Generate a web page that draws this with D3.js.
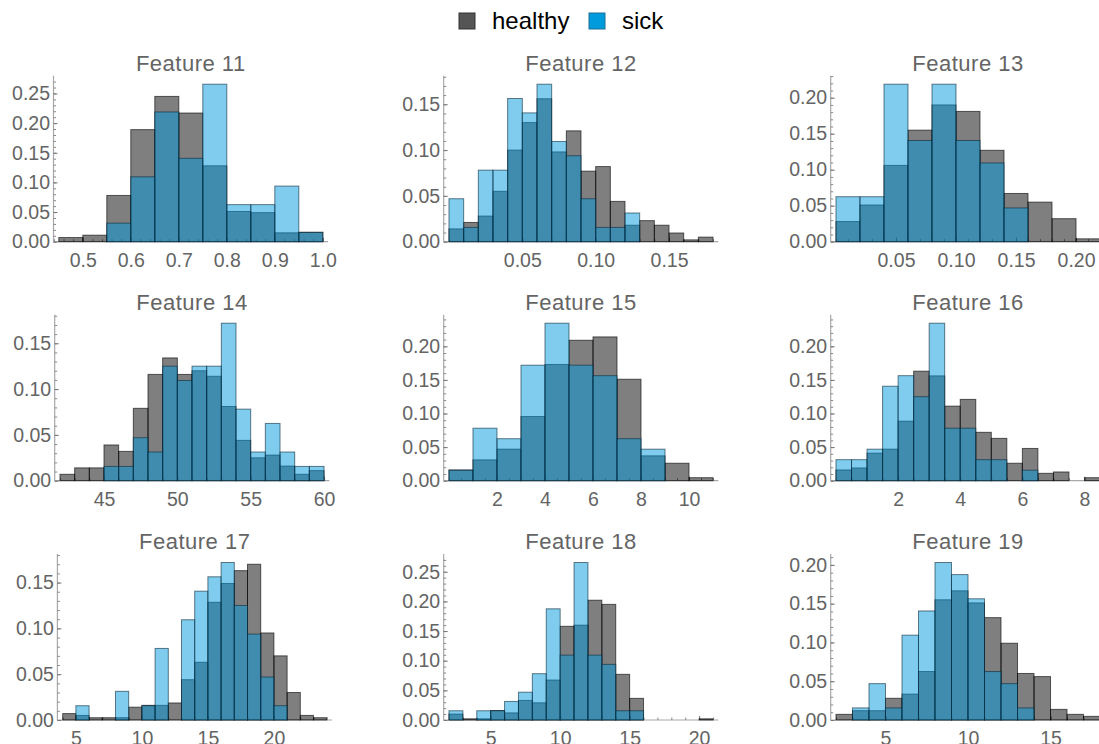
<!DOCTYPE html>
<html lang="en">
<head>
<meta charset="UTF-8">
<script src="https://d3js.org/d3.v7.min.js"></script>
<title>Feature histograms</title>
<style>
  body { margin: 0; background: #fff; }
  svg { display: block; font-family: "Liberation Sans", Arial, sans-serif; }
  .tick text { fill: #646464; }
</style>
</head>
<body>
<script>
// ---- data (probabilities per bin) ----
const featureNames = ["Feature 11", "Feature 12", "Feature 13",
                      "Feature 14", "Feature 15", "Feature 16",
                      "Feature 17", "Feature 18", "Feature 19"];
const binStart = [0.45, 0, 0, 42, 0, 0, 4, 2, 2];
const binWidth = [0.05, 0.01, 0.02, 1, 1, 0.5, 1, 1, 1];

const healthy11 = [0.007, 0.011, 0.078, 0.189, 0.245, 0.217, 0.128, 0.051, 0.049, 0.015, 0.016];
const sick11    = [0, 0, 0.0313, 0.1094, 0.2188, 0.1406, 0.2656, 0.0625, 0.0625, 0.0938, 0.0156];

const healthy12 = [0.014, 0.021, 0.028, 0.055, 0.100, 0.130, 0.156, 0.098, 0.121, 0.077, 0.082, 0.044, 0.018, 0.023, 0.018, 0.0095, 0.002, 0.005];
const sick12    = [0.0469, 0.0156, 0.0781, 0.0781, 0.1563, 0.1406, 0.1719, 0.1094, 0.0938, 0.0469, 0.0156, 0.0156, 0.0313, 0, 0, 0, 0, 0];

const healthy13 = [0.028, 0.051, 0.106, 0.155, 0.190, 0.181, 0.127, 0.067, 0.055, 0.032, 0.004];
const sick13    = [0.0625, 0.0625, 0.2188, 0.1406, 0.2188, 0.1406, 0.1094, 0.0469, 0, 0, 0];

const healthy14 = [0.007, 0.014, 0.014, 0.039, 0.032, 0.079, 0.116, 0.134, 0.116, 0.120, 0.114, 0.081, 0.044, 0.025, 0.028, 0.016, 0.007, 0.011];
const sick14    = [0, 0, 0, 0.0156, 0.0156, 0.0469, 0.0313, 0.125, 0.1094, 0.125, 0.125, 0.1719, 0.0781, 0.0313, 0.0625, 0.0313, 0.0156, 0.0156];

const healthy15 = [0.016, 0.031, 0.047, 0.0955, 0.173, 0.209, 0.214, 0.151, 0.037, 0.026, 0.0045];
const sick15    = [0.0156, 0.0781, 0.0625, 0.1719, 0.2344, 0.1719, 0.1563, 0.0625, 0.0469, 0, 0];

const healthy16 = [0.016, 0.019, 0.041, 0.047, 0.0886, 0.163, 0.156, 0.111, 0.121, 0.072, 0.063, 0.026, 0.048, 0.011, 0.013, 0, 0.0045];
const sick16    = [0.0313, 0.0313, 0.0469, 0.1406, 0.1563, 0.125, 0.2344, 0.0781, 0.0781, 0.0313, 0.0313, 0, 0.0156, 0, 0, 0, 0];

const healthy17 = [0.007, 0.005, 0.0025, 0.0025, 0.0025, 0.014, 0.016, 0.016, 0.0186, 0.044, 0.063, 0.1285, 0.149, 0.163, 0.170, 0.095, 0.070, 0.030, 0.005, 0.0025];
const sick17    = [0, 0.0156, 0, 0, 0.0313, 0, 0.0156, 0.0781, 0, 0.1094, 0.1406, 0.1563, 0.1719, 0.125, 0.0938, 0.0469, 0.0156, 0, 0, 0];

const healthy18 = [0.010, 0.002, 0.002, 0.016, 0.012, 0.033, 0.029, 0.0674, 0.158, 0.160, 0.202, 0.195, 0.077, 0.0365, 0, 0, 0, 0, 0.002];
const sick18    = [0.0156, 0, 0.0156, 0.0156, 0.0313, 0.0469, 0.0781, 0.1875, 0.1094, 0.2656, 0.1094, 0.0938, 0.0156, 0.0156, 0, 0, 0, 0, 0];

const healthy19 = [0.0073, 0.012, 0.012, 0.028, 0.0334, 0.0625, 0.155, 0.1666, 0.151, 0.132, 0.099, 0.060, 0.056, 0.0137, 0.0073, 0.0047];
const sick19    = [0, 0.0156, 0.0469, 0.0156, 0.1094, 0.1406, 0.2031, 0.1875, 0.1563, 0.0625, 0.0469, 0.0156, 0, 0, 0, 0];

const healthySeries = [healthy11, healthy12, healthy13, healthy14, healthy15, healthy16, healthy17, healthy18, healthy19];
const sickSeries = [sick11, sick12, sick13, sick14, sick15, sick16, sick17, sick18, sick19];

const xTickValues = [[0.5, 0.6, 0.7, 0.8, 0.9, 1.0], [0.05, 0.10, 0.15], [0.05, 0.10, 0.15, 0.20],
                     [45, 50, 55, 60], [2, 4, 6, 8, 10], [2, 4, 6, 8],
                     [5, 10, 15, 20], [5, 10, 15, 20], [5, 10, 15]];
const xTickFormats = [".1f", ".2f", ".2f", "d", "d", "d", "d", "d", "d"];
const xMinorStep = [0.02, 0.01, 0.01, 1, 0.5, 0.5, 1, 1, 1];
const yTickValues = [[0, 0.05, 0.10, 0.15, 0.20, 0.25], [0, 0.05, 0.10, 0.15], [0, 0.05, 0.10, 0.15, 0.20],
                     [0, 0.05, 0.10, 0.15], [0, 0.05, 0.10, 0.15, 0.20], [0, 0.05, 0.10, 0.15, 0.20],
                     [0, 0.05, 0.10, 0.15], [0, 0.05, 0.10, 0.15, 0.20, 0.25], [0, 0.05, 0.10, 0.15, 0.20]];
const legendLabels = ["healthy", "sick"];

// ---- layout ----
const panelLeft = [53.5, 443.7, 830.7, 54.7, 443.7, 830.7, 57.4, 443.7, 830.7];
const rowBase = [241.7, 480.7, 720];
const plotW = 274.6;   // axis length incl. 2% padding on each side
const barTop = 157.5;  // height of the tallest bar
const axisH = 166;

const svg = d3.select("body").append("svg").attr("width", 1099).attr("height", 744);

featureNames.forEach((name, i) => {
    const row = Math.floor(i / 3);
    const x0 = panelLeft[i], y0 = rowBase[row];
    const hs = healthySeries[i], ss = sickSeries[i];
    const w = binWidth[i];
    const lo = binStart[i], hi = binStart[i] + hs.length * w;
    const pad = (hi - lo) * 0.02;
    const x = d3.scaleLinear().domain([lo - pad, hi + pad]).range([x0, x0 + plotW]);
    const y = d3.scaleLinear().domain([0, d3.max(hs.concat(ss))]).range([y0, y0 - barTop]);

    const g = svg.append("g");

    // axis lines
    g.append("line").attr("x1", x0).attr("x2", x0 + plotW).attr("y1", y0).attr("y2", y0)
        .attr("stroke", "#a8a8a8").attr("stroke-width", 1.2);
    g.append("line").attr("x1", x0).attr("x2", x0).attr("y1", y0).attr("y2", y0 - axisH)
        .attr("stroke", "#a8a8a8").attr("stroke-width", 1.2);

    // minor ticks
    const yMinor = d3.range(0, y.invert(y0 - axisH), 0.01);
    g.append("g").attr("transform", "translate(" + x0 + ",0)")
        .call(d3.axisLeft(y).tickValues(yMinor).tickSize(-2.5).tickFormat(""))
        .call(a => a.select(".domain").remove())
        .selectAll("line").attr("stroke", "#888");
    const xMinor = d3.range(Math.ceil((lo - pad) / xMinorStep[i]), Math.floor((hi + pad) / xMinorStep[i]) + 1)
        .map(k => k * xMinorStep[i]);
    g.append("g").attr("transform", "translate(0," + y0 + ")")
        .call(d3.axisBottom(x).tickValues(xMinor).tickSize(-2.5).tickFormat(""))
        .call(a => a.select(".domain").remove())
        .selectAll("line").attr("stroke", "#888");

    // major ticks and labels
    const yAxis = g.append("g").attr("transform", "translate(" + x0 + ",0)")
        .call(d3.axisLeft(y).tickValues(yTickValues[i]).tickSize(-4).tickPadding(3.5).tickFormat(d3.format(".2f")));
    const xAxis = g.append("g").attr("transform", "translate(0," + y0 + ")")
        .call(d3.axisBottom(x).tickValues(xTickValues[i]).tickSize(-4).tickPadding(11.6).tickFormat(d3.format(xTickFormats[i])));
    [yAxis, xAxis].forEach(a => {
        a.select(".domain").remove();
        a.attr("font-size", null).attr("font-family", null);
        a.selectAll("line").attr("stroke", "#777");
        a.selectAll("text").style("font-size", "19.5px").attr("fill", "#646464");
    });

    // bars: healthy first, sick drawn over it
    const bins = (vals) => vals.map((v, k) => ({lo: lo + k * w, hi: lo + (k + 1) * w, v: v})).filter(d => d.v > 0);
    g.append("g").selectAll("rect").data(bins(hs)).join("rect")
        .attr("x", d => x(d.lo)).attr("width", d => x(d.hi) - x(d.lo))
        .attr("y", d => y(d.v)).attr("height", d => y0 - y(d.v))
        .attr("fill", "rgb(0,0,0)").attr("fill-opacity", 0.5)
        .attr("stroke", "#000").attr("stroke-opacity", 0.6).attr("stroke-width", 1);
    g.append("g").selectAll("rect").data(bins(ss)).join("rect")
        .attr("x", d => x(d.lo)).attr("width", d => x(d.hi) - x(d.lo))
        .attr("y", d => y(d.v)).attr("height", d => y0 - y(d.v))
        .attr("fill", "rgb(0,153,221)").attr("fill-opacity", 0.5)
        .attr("stroke", "#0a2a3a").attr("stroke-opacity", 0.6).attr("stroke-width", 1);

    // title
    g.append("text").attr("x", x0 + plotW / 2).attr("y", y0 - 170.7)
        .attr("text-anchor", "middle").style("font-size", "22px").style("letter-spacing", "0.5px")
        .attr("fill", "#646464").text(name);
});

// legend
const legendX = [459, 589];
const legendFill = ["#555555", "#009bdd"];
const legendStroke = ["#333333", "#1d6f96"];
const legend = svg.append("g");
legendLabels.forEach((lab, k) => {
    legend.append("rect").attr("x", legendX[k]).attr("y", 13).attr("width", 16).attr("height", 16)
        .attr("fill", legendFill[k]).attr("stroke", legendStroke[k]).attr("stroke-width", 1);
    legend.append("text").attr("x", legendX[k] + 33).attr("y", 28.5)
        .style("font-size", "24px").attr("fill", "#000").text(lab);
});
</script>
</body>
</html>
